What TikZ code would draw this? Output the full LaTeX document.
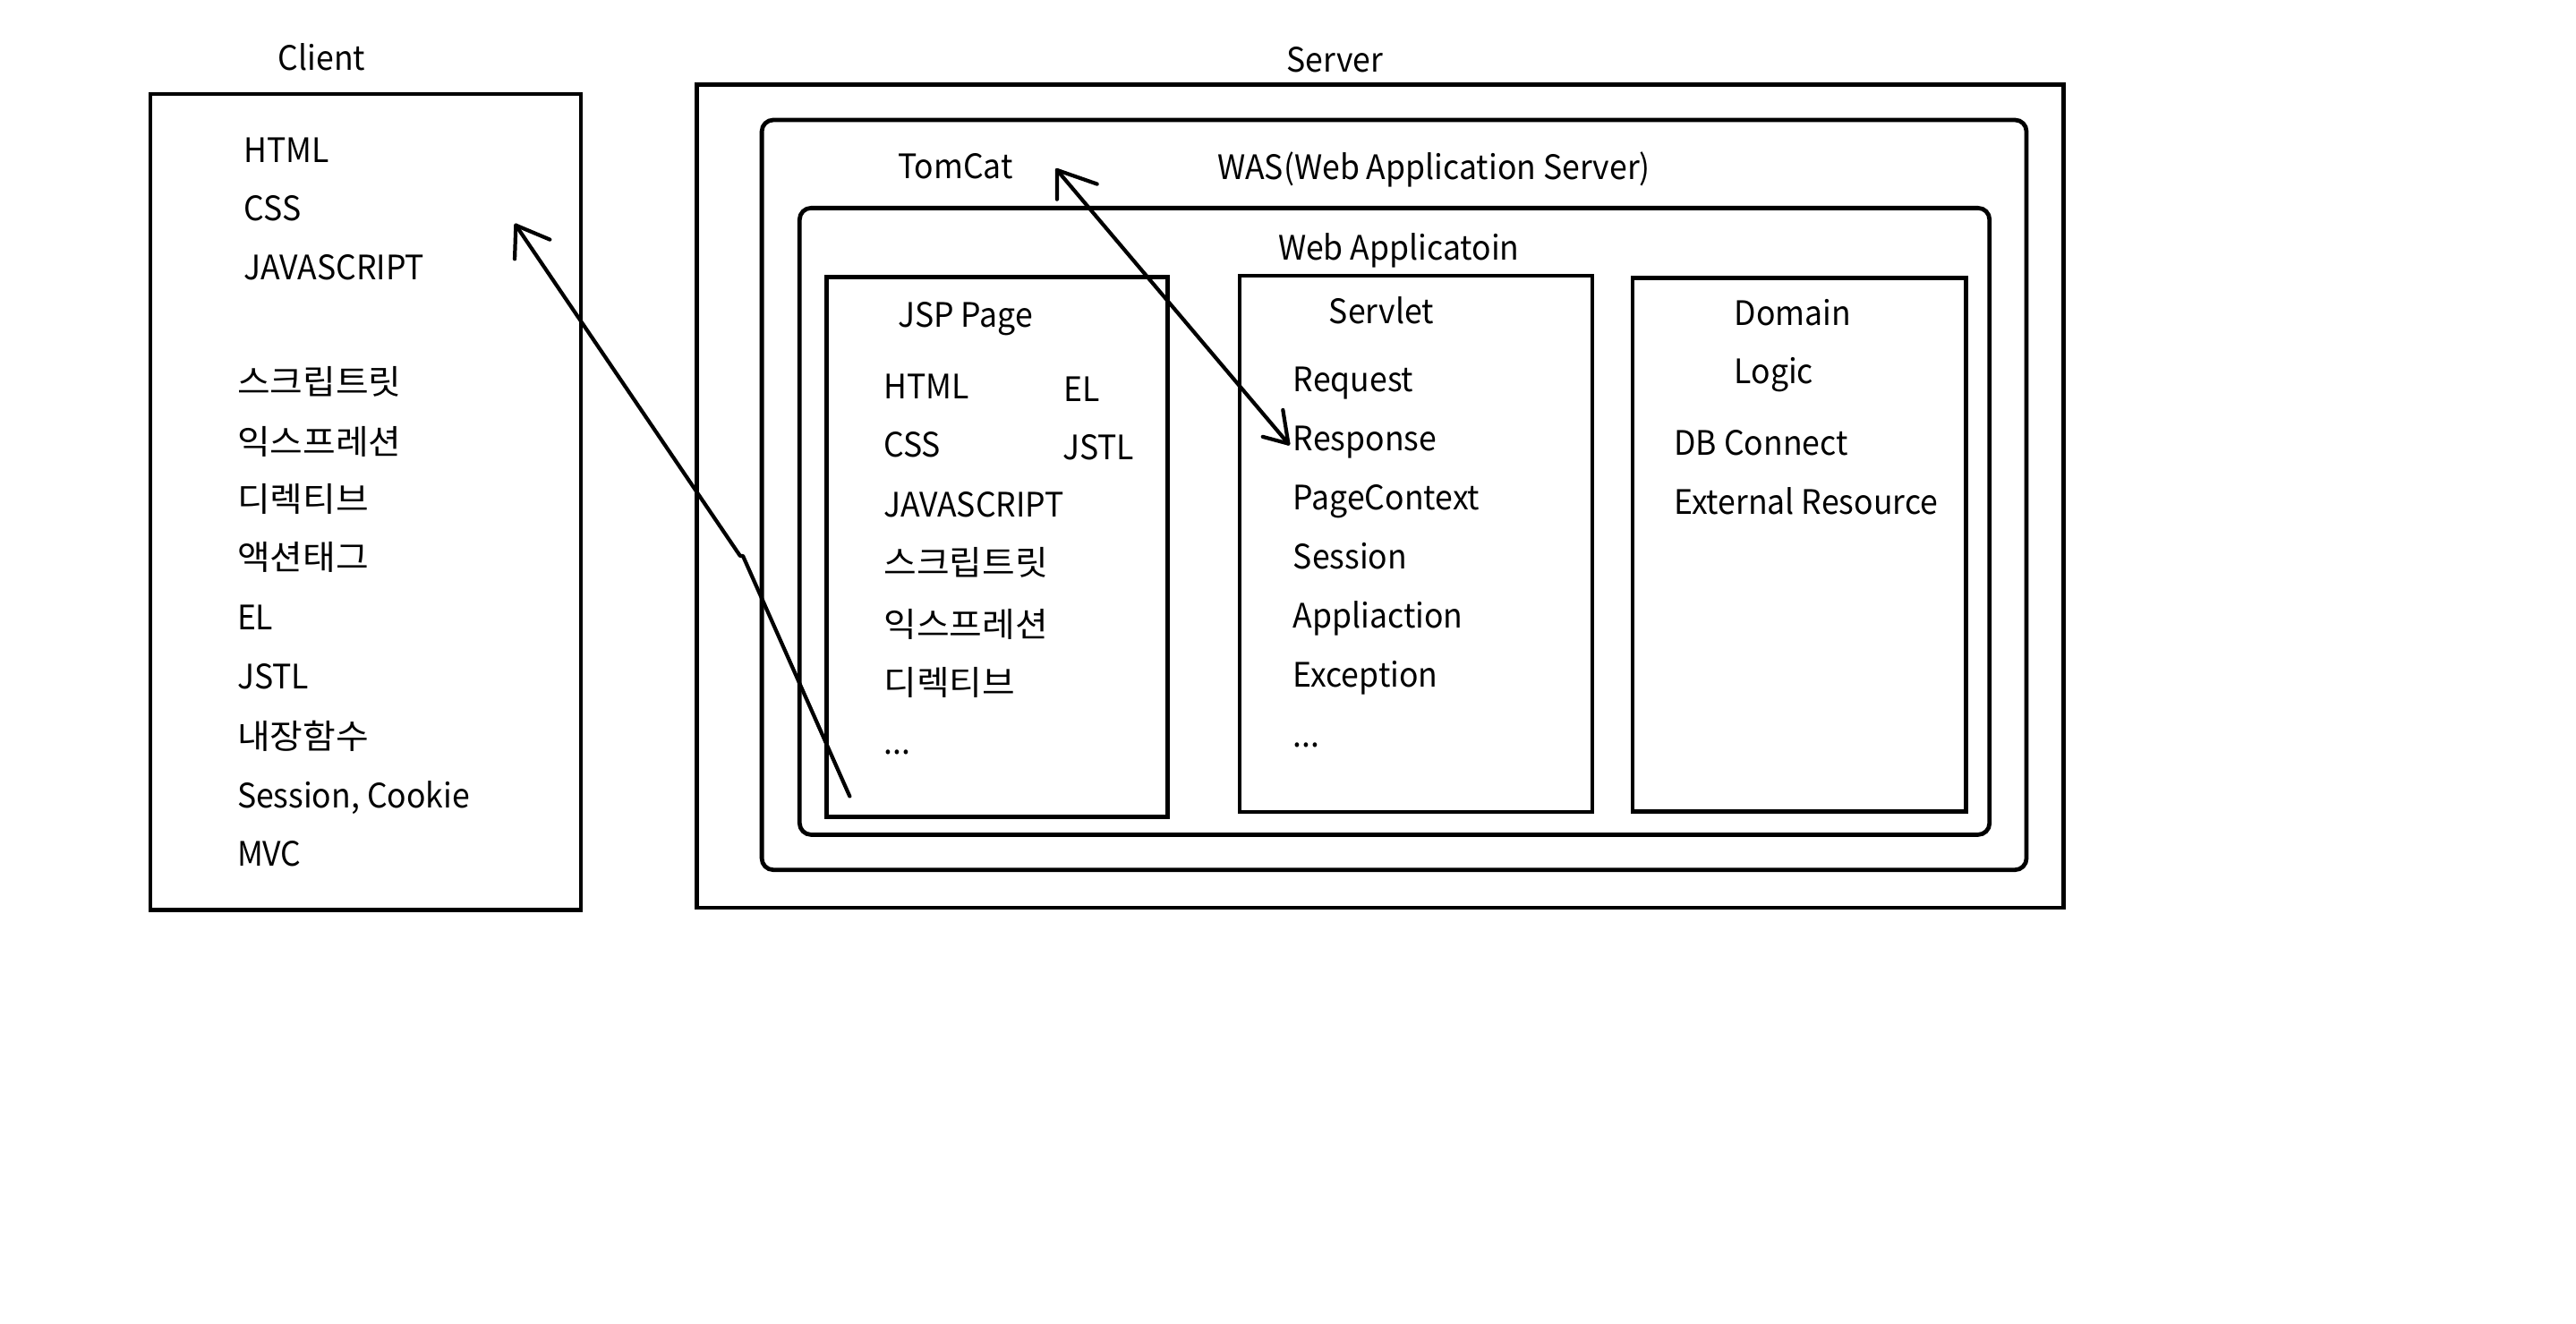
\documentclass[tikz,border=0pt]{standalone}
\usepackage{fontspec}
\setmainfont[FakeStretch=0.945]{Noto Sans CJK KR}
\newfontfamily\krfont[FakeStretch=1.06]{Noto Sans CJK KR}
\begin{document}
\begin{tikzpicture}[x=1pt,y=-1pt,
  box/.style={draw=black,line width=2.6pt,inner sep=0pt,outer sep=0pt,anchor=north west},
  rbox/.style={box,rounded corners=7pt},
  txt/.style={anchor=base west,inner sep=0pt,outer sep=0pt,font=\fontsize{20.5}{24}\selectfont},
  krtxt/.style={txt,font=\fontsize{20.5}{24}\krfont},
  arr/.style={draw=black,line width=2.3pt,line cap=round,line join=round}]
\useasboundingbox[fill=white] (0,0) rectangle (1568,805.3);

% containers
\node[box,minimum width=262.1pt,minimum height=496.7pt] (client) at (91.5,57.2) {};
\node[box,minimum width=831.8pt,minimum height=501.1pt] (server) at (424.2,51.4) {};
\node[rbox,minimum width=769.8pt,minimum height=456.4pt] (was) at (463.7,73) {};
\node[rbox,minimum width=724.3pt,minimum height=381.4pt] (webapp) at (486.7,126.6) {};
\node[box,minimum width=207.6pt,minimum height=328.8pt] (jsp) at (503,168.5) {};
\node[box,minimum width=214.6pt,minimum height=326.4pt] (servlet) at (754.6,167.8) {};
\node[box,minimum width=202.8pt,minimum height=324.7pt] (domain) at (993.7,169.3) {};

% client texts
\node[txt] (clientlbl) at (169.3,42.7) {Client};
\node[txt] (c1) at (148.6,99.1) {HTML};
\node[txt] (c2) at (148.6,134.4) {CSS};
\node[txt] (c3) at (148.6,170.3) {JAVASCRIPT};
\node[krtxt] (c4) at (144.4,240) {스크립트릿};
\node[krtxt] (c5) at (144.4,276.5) {익스프레션};
\node[krtxt] (c6) at (144.4,311.3) {디렉티브};
\node[krtxt] (c7) at (144.4,346.7) {액션태그};
\node[txt] (c8) at (144.4,383.5) {EL};
\node[txt] (c9) at (144.4,419.5) {JSTL};
\node[krtxt] (c10) at (144.4,455.8) {내장함수};
\node[txt] (c11) at (144.4,491.6) {Session, Cookie};
\node[txt] (c12) at (144.4,527.2) {MVC};

% server texts
\node[txt] (serverlbl) at (783.2,43.6) {Server};
\node[txt] (tomcat) at (546.5,108.6) {TomCat};
\node[txt] (waslbl) at (741,109.3) {WAS(Web Application Server)};
\node[txt] (webapplbl) at (778,158.4) {Web Applicatoin};

% JSP
\node[txt] (jsplbl) at (546.6,199.1) {JSP Page};
\node[txt] (j1) at (537.9,242.7) {HTML};
\node[txt] (j2) at (647.4,244.5) {EL};
\node[txt] (j3) at (537.9,278.4) {CSS};
\node[txt] (j4) at (646.7,279.9) {JSTL};
\node[txt] (j5) at (537.9,314.5) {JAVASCRIPT};
\node[krtxt] (j6) at (537.9,350.3) {스크립트릿};
\node[krtxt] (j7) at (537.9,387.6) {익스프레션};
\node[krtxt] (j8) at (537.9,423.0) {디렉티브};
\node[txt] (j9) at (537.9,459.0) {...};

% Servlet
\node[txt] (servletlbl) at (809,197.2) {Servlet};
\node[txt] (s1) at (787.2,238.4) {Request};
\node[txt] (s2) at (787.2,274.4) {Response};
\node[txt] (s3) at (787.2,310.4) {PageContext};
\node[txt] (s4) at (787.2,346.1) {Session};
\node[txt] (s5) at (787.2,382.1) {Appliaction};
\node[txt] (s6) at (787.2,418.1) {Exception};
\node[txt] (s7) at (787.2,454.7) {...};

% Domain
\node[txt] (d1) at (1055.7,197.8) {Domain};
\node[txt] (d2) at (1055.7,233.5) {Logic};
\node[txt] (d3) at (1019,277.2) {DB Connect};
\node[txt] (d4) at (1019,312.8) {External Resource};

% arrow 1: JSP -> Client
\coordinate (a1start) at (517.2,484.6);
\coordinate (a1k2) at (452.2,338.3);
\coordinate (a1k1) at (450.5,338.3);
\coordinate (a1tip) at (314,137.1);
\coordinate (a1armA) at (334.7,145.8);
\coordinate (a1armB) at (313.3,157.6);
\draw[arr] (a1start) -- (a1k2) -- (a1k1) -- (a1tip);
\draw[arr] (a1armA) -- (a1tip) -- (a1armB);

% arrow 2: TomCat <-> Response
\coordinate (a2top) at (643.4,103.5);
\coordinate (a2topA) at (667.8,112);
\coordinate (a2topB) at (643.4,121.3);
\coordinate (a2bot) at (784.2,270);
\coordinate (a2botA) at (780.9,249.5);
\coordinate (a2botB) at (768.6,265.8);
\draw[arr] (a2top) -- (a2bot);
\draw[arr] (a2topA) -- (a2top) -- (a2topB);
\draw[arr] (a2botA) -- (a2bot) -- (a2botB);
\end{tikzpicture}
\end{document}
